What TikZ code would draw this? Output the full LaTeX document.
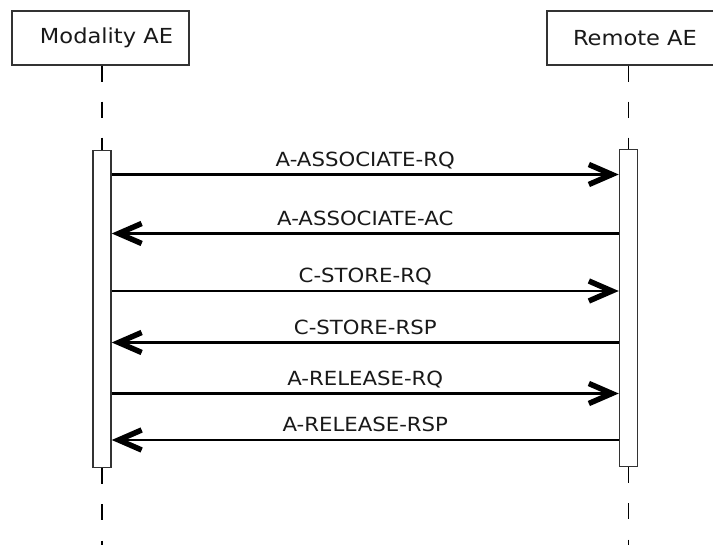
\documentclass[tikz,border=0pt]{standalone}
\usepackage{fontspec}
\setmainfont{DejaVu Sans}[FakeStretch=1.09]
\usetikzlibrary{arrows.meta}
\definecolor{frame-gray}{HTML}{333333}

\begin{document}
\begin{tikzpicture}[x=1pt, y=-1pt,
      every node/.style={font=\fontsize{19.5}{22}\selectfont, text=black!90},
      actor/.style={draw=frame-gray, line width=1.5pt, fill=white,
          minimum height=54pt, inner sep=0pt, font=\fontsize{20.7}{24}\selectfont},
      lifeline/.style={draw=black, line width=1.3pt, dash pattern=on 16pt off 20pt},
      activebar/.style={draw=frame-gray, line width=1.5pt, fill=white,
          minimum width=18pt, minimum height=317pt, inner sep=0pt, anchor=north},
      msg/.style={line width=2.4pt,
          -{Straight Barb[length=23pt, width=20pt, line width=5.5pt, sharp]}},
      msglabel/.style={midway, anchor=base, yshift=8pt}]
    \useasboundingbox (0,0) rectangle (713,545);
    % participants
    \node[actor, minimum width=177pt] (modality) at (100.5,38) {\hspace*{12pt}Modality AE};
    \node[actor, minimum width=176pt] (remote) at (635,38) {Remote AE};
    % activation bars
    \node[activebar] (barL) at (102,150) {};
    \node[activebar] (barR) at (628.5,149) {};
    % lifelines
    \draw[lifeline] (modality.south -| barL.north) -- (barL.north);
    \draw[lifeline] (barL.south) -- ++(0,80);
    \draw[lifeline] (remote.south -| barR.north) -- (barR.north);
    \draw[lifeline] (barR.south) -- ++(0,80);
    % messages
    \coordinate (m1) at (0,174.5);
    \coordinate (m2) at (0,233.5);
    \coordinate (m3) at (0,291);
    \coordinate (m4) at (0,342.5);
    \coordinate (m5) at (0,393.5);
    \coordinate (m6) at (0,440);
    \draw[msg] (barL.east |- m1) -- (barR.west |- m1) node[msglabel] {A-ASSOCIATE-RQ};
    \draw[msg] (barR.west |- m2) -- (barL.east |- m2) node[msglabel] {A-ASSOCIATE-AC};
    \draw[msg] (barL.east |- m3) -- (barR.west |- m3) node[msglabel] {C-STORE-RQ};
    \draw[msg] (barR.west |- m4) -- (barL.east |- m4) node[msglabel] {C-STORE-RSP};
    \draw[msg] (barL.east |- m5) -- (barR.west |- m5) node[msglabel] {A-RELEASE-RQ};
    \draw[msg] (barR.west |- m6) -- (barL.east |- m6) node[msglabel] {A-RELEASE-RSP};
\end{tikzpicture}
\end{document}
